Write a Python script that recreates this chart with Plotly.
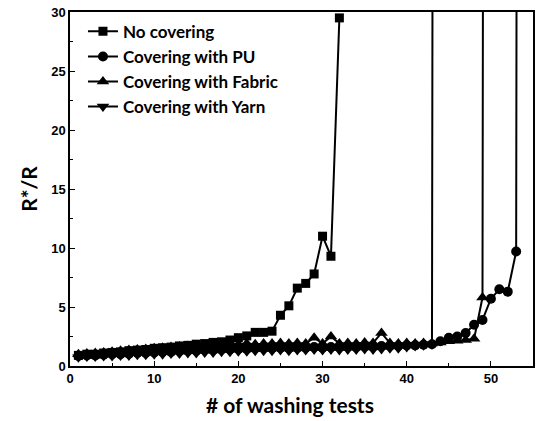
import plotly.graph_objects as go

# washing test numbers
x_none = list(range(1, 33))
x_pu = list(range(1, 55))
x_fabric = list(range(1, 51))
x_yarn = list(range(1, 45))

# R*/R values (last values far above the axis = open circuit)
r_none = [0.9, 1.0, 1.0, 1.1, 1.15, 1.2, 1.3, 1.35, 1.4, 1.5, 1.55, 1.6, 1.7, 1.75, 1.85, 1.9,
          2.0, 2.05, 2.2, 2.4, 2.55, 2.85, 2.85, 2.95, 4.3, 5.1, 6.6, 7.0, 7.8, 11.0, 9.3, 29.5]
r_pu = [0.85, 0.9, 0.9, 0.95, 1.0, 1.0, 1.05, 1.1, 1.1, 1.15, 1.2, 1.2, 1.25, 1.3, 1.3, 1.35,
        1.35, 1.4, 1.4, 1.45, 1.45, 1.5, 1.5, 1.5, 1.55, 1.5, 1.55, 1.55, 1.6, 1.55, 1.6, 1.6,
        1.65, 1.6, 1.65, 1.65, 1.7, 1.7, 1.7, 1.75, 1.75, 1.8, 1.85, 2.1, 2.4, 2.5, 2.8, 3.5,
        3.9, 5.7, 6.5, 6.3, 9.7, 500]
r_fabric = [1.0, 1.05, 1.1, 1.15, 1.2, 1.3, 1.35, 1.4, 1.45, 1.5, 1.55, 1.6, 1.65, 1.7, 1.75,
            1.75, 1.8, 1.8, 1.85, 1.85, 1.9, 1.85, 1.9, 1.9, 1.95, 1.9, 1.95, 1.9, 2.4, 1.9,
            2.5, 1.9, 1.95, 1.9, 2.0, 1.95, 2.8, 1.95, 1.9, 1.95, 1.9, 1.95, 1.9, 2.0, 2.1,
            2.15, 2.2, 2.3, 5.8, 500]
r_yarn = [0.75, 0.8, 0.8, 0.85, 0.85, 0.9, 0.9, 0.95, 0.95, 1.0, 1.0, 1.05, 1.05, 1.1, 1.1,
          1.15, 1.15, 1.2, 1.2, 1.25, 1.25, 1.3, 1.3, 1.3, 1.35, 1.3, 1.35, 1.35, 1.4, 1.35,
          1.4, 1.35, 1.4, 1.4, 1.45, 1.4, 1.45, 1.5, 1.5, 1.6, 1.7, 1.75, 1.85, 500]

names = ["No covering", "Covering with PU", "Covering with Fabric", "Covering with Yarn"]
x_tick_vals = [0, 10, 20, 30, 40, 50]
y_tick_vals = [0, 5, 10, 15, 20, 25, 30]
x_title = "# of washing tests"
y_title = "R*/R"

series = [
    (x_none, r_none, names[0], "square", 9),
    (x_pu, r_pu, names[1], "circle", 10),
    (x_fabric, r_fabric, names[2], "triangle-up", 11),
    (x_yarn, r_yarn, names[3], "triangle-down", 11),
]

fig = go.Figure()
for xs, ys, nm, sym, sz in series:
    fig.add_trace(go.Scatter(
        x=xs, y=ys, name=nm, mode="lines+markers",
        line=dict(color="black", width=2),
        marker=dict(symbol=sym, size=sz, color="black"),
    ))

tickfont = dict(family="Liberation Sans, Arial", size=13, color="black", weight="bold")
titlefont = dict(family="Lato, Open Sans", size=21, color="black", weight="bold")

fig.update_layout(
    width=537, height=421,
    margin=dict(l=70, r=2, t=12, b=55),
    plot_bgcolor="white", paper_bgcolor="white",
    showlegend=True,
    legend=dict(x=0.028, y=0.995, xanchor="left", yanchor="top",
                font=dict(family="Lato, Open Sans", size=17, color="black", weight="bold"),
                bgcolor="rgba(0,0,0,0)", tracegroupgap=0),
    xaxis=dict(range=[0, 55], tickvals=x_tick_vals, ticks="inside", ticklen=5,
               tickwidth=1, tickcolor="black",
               minor=dict(dtick=5, ticks="inside", ticklen=3, tickcolor="black"),
               showline=True, linecolor="black", linewidth=1.5, mirror=True,
               showgrid=False, zeroline=False, tickfont=tickfont),
    yaxis=dict(range=[0, 30], tickvals=y_tick_vals, ticks="inside", ticklen=5,
               tickwidth=1, tickcolor="black",
               minor=dict(dtick=2.5, ticks="inside", ticklen=3, tickcolor="black"),
               showline=True, linecolor="black", linewidth=1.5, mirror=True,
               showgrid=False, zeroline=False, tickfont=tickfont,
               title=dict(text=y_title, font=titlefont, standoff=8)),
    annotations=[dict(text=x_title, xref="paper", yref="paper", x=0.475, y=-0.108,
                      xanchor="center", yanchor="middle", showarrow=False, font=titlefont)],
)

fig.write_html("out.html", config={"displayModeBar": False},
               post_script="document.body.style.margin='0';")
